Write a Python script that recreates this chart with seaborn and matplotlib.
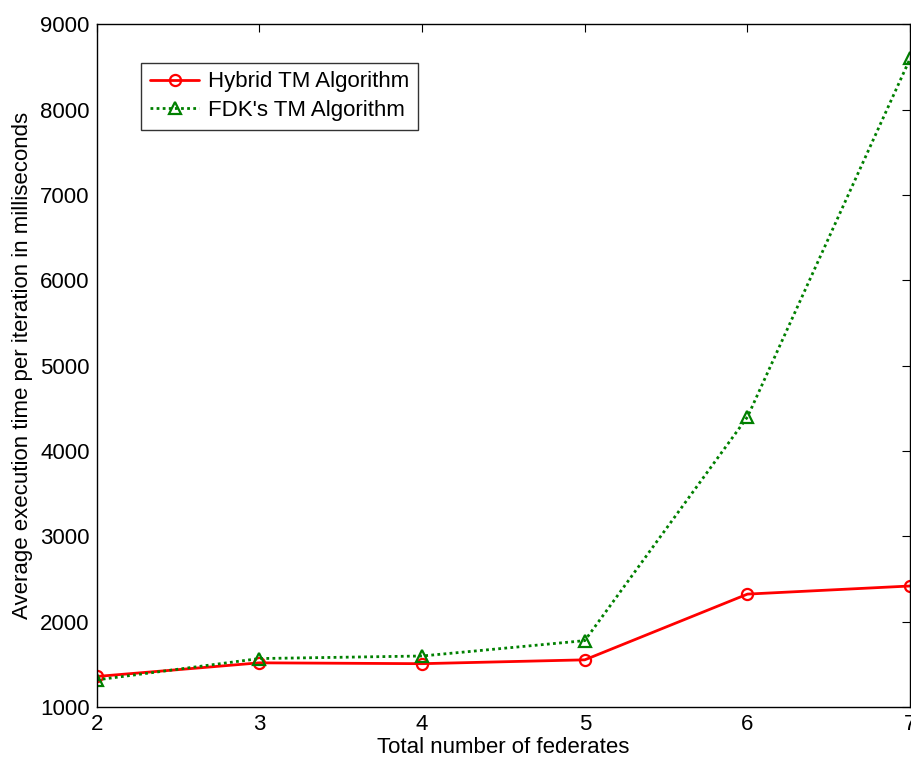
import matplotlib
matplotlib.use("Agg")
import matplotlib.pyplot as plt
import seaborn as sns
import pandas as pd

# values
federates = [2, 3, 4, 5, 6, 7]
hybrid_ms = [1360, 1520, 1510, 1555, 2325, 2420]
fdk_ms = [1320, 1570, 1600, 1780, 4400, 8600]
series_names = ["Hybrid TM Algorithm", "FDK's TM Algorithm"]

df = pd.DataFrame({
    "federates": federates * 2,
    "time": hybrid_ms + fdk_ms,
    "algorithm": [series_names[0]] * len(federates) + [series_names[1]] * len(federates),
})

sns.set_style("white")
plt.rcParams["font.family"] = ["Liberation Sans", "DejaVu Sans"]
plt.rcParams["font.size"] = 16
plt.rcParams["text.color"] = "black"
plt.rcParams["axes.labelcolor"] = "black"
plt.rcParams["xtick.color"] = "black"
plt.rcParams["ytick.color"] = "black"

fig = plt.figure(figsize=(9.12, 7.58), dpi=100)
ax = fig.add_axes([0.106, 0.067, 0.892, 0.901])

sns.lineplot(data=df, x="federates", y="time", hue="algorithm", style="algorithm",
             palette=["red", "green"], dashes={series_names[0]: "", series_names[1]: (1, 1.2)},
             markers={series_names[0]: "o", series_names[1]: "^"},
             markersize=8, markerfacecolor="none", markeredgewidth=1.6,
             linewidth=2, ax=ax, legend=True)

# markers as outlines, coloured like their lines
for line, col in zip(ax.get_lines(), ["red", "green"]):
    line.set_markeredgecolor(col)
    line.set_markerfacecolor("none")

ax.set_xlim(2, 7)
ax.set_ylim(1000, 9000)
ax.set_xticks(federates)
ax.set_yticks(range(1000, 9001, 1000))
ax.set_xlabel("Total number of federates", fontsize=16, labelpad=1)
ax.set_ylabel("Average execution time per iteration in milliseconds", fontsize=16, labelpad=5)
ax.tick_params(direction="in", top=True, right=True, length=6, labelsize=16, pad=5)
for s in ax.spines.values():
    s.set_visible(True)
    s.set_color("black")
    s.set_linewidth(1.0)

handles, labels = ax.get_legend_handles_labels()
for h, col in zip(handles, ["red", "green"]):
    h.set_markeredgecolor(col)
    h.set_markerfacecolor("none")
leg = ax.legend(handles, labels, loc="upper left", bbox_to_anchor=(0.055, 0.944),
                borderaxespad=0, fontsize=16, frameon=True, fancybox=False,
                edgecolor="black", borderpad=0.4, handlelength=2.2, handletextpad=0.4,
                labelspacing=0.35)
leg.get_frame().set_linewidth(1.0)

fig.savefig("out.png", dpi=100)
